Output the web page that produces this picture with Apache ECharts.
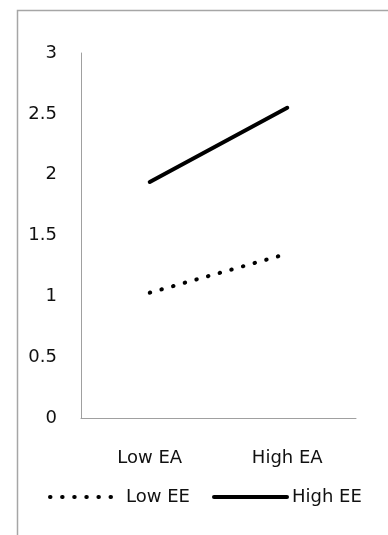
<!DOCTYPE html>
<html>
<head>
<meta charset="utf-8">
<script src="https://cdn.jsdelivr.net/npm/echarts@6/dist/echarts.min.js"></script>
<style>html,body{margin:0;padding:0;background:#fff}#c{width:388px;height:535px}</style>
</head>
<body>
<div id="c"></div>
<script>
const categories = ['Low EA', 'High EA'];
const lowEE = [1.03, 1.35];
const highEE = [1.94, 2.55];
const yTicks = [0, 0.5, 1, 1.5, 2, 2.5, 3];

const font = '"DejaVu Sans", "Open Sans", sans-serif';
const fs = 18;
const txt = '#111';
const dotted = [0.5, 11.6];
const chart = echarts.init(document.getElementById('c'), null, {renderer: 'canvas'});
chart.setOption({
  animation: false,
  backgroundColor: '#fff',
  graphic: [{
    type: 'rect', left: 15, top: 8,
    shape: {width: 420, height: 560},
    style: {fill: 'none', stroke: '#a6a6a6', lineWidth: 1.5},
    silent: true
  }],
  grid: {left: 81, right: 32, top: 53, bottom: 117, containLabel: false},
  xAxis: {
    type: 'category', data: categories, boundaryGap: true,
    axisLine: {lineStyle: {color: '#a0a0a0', width: 1}},
    axisTick: {show: false},
    axisLabel: {color: txt, fontFamily: font, fontSize: fs, margin: 31}
  },
  yAxis: {
    type: 'value', min: 0, max: 3, interval: 0.5,
    axisLine: {show: true, lineStyle: {color: '#a0a0a0', width: 1}},
    axisTick: {show: false},
    splitLine: {show: false},
    axisLabel: {color: txt, fontFamily: font, fontSize: fs, margin: 24,
      formatter: v => yTicks.includes(v) ? String(v) : ''}
  },
  legend: [
    {
      top: 488, left: 48, padding: 0, itemWidth: 64, itemHeight: 12,
      textStyle: {color: txt, fontFamily: font, fontSize: fs, padding: [0, 0, 0, 7]},
      data: [{name: 'Low EE', itemStyle: {opacity: 0},
        lineStyle: {color: '#000', width: 4, type: dotted, cap: 'round'}}]
    },
    {
      top: 488, left: 212, padding: 0, itemWidth: 73, itemHeight: 12,
      textStyle: {color: txt, fontFamily: font, fontSize: fs},
      data: [{name: 'High EE', itemStyle: {opacity: 0},
        lineStyle: {color: '#000', width: 4, cap: 'round'}}]
    }
  ],
  series: [
    {
      name: 'Low EE', type: 'line', data: lowEE, symbol: 'none',
      lineStyle: {color: '#000', width: 4, type: dotted, cap: 'round'},
      itemStyle: {color: '#000'}
    },
    {
      name: 'High EE', type: 'line', data: highEE, symbol: 'none',
      lineStyle: {color: '#000', width: 4, cap: 'round'},
      itemStyle: {color: '#000'}
    }
  ]
});
</script>
</body>
</html>
